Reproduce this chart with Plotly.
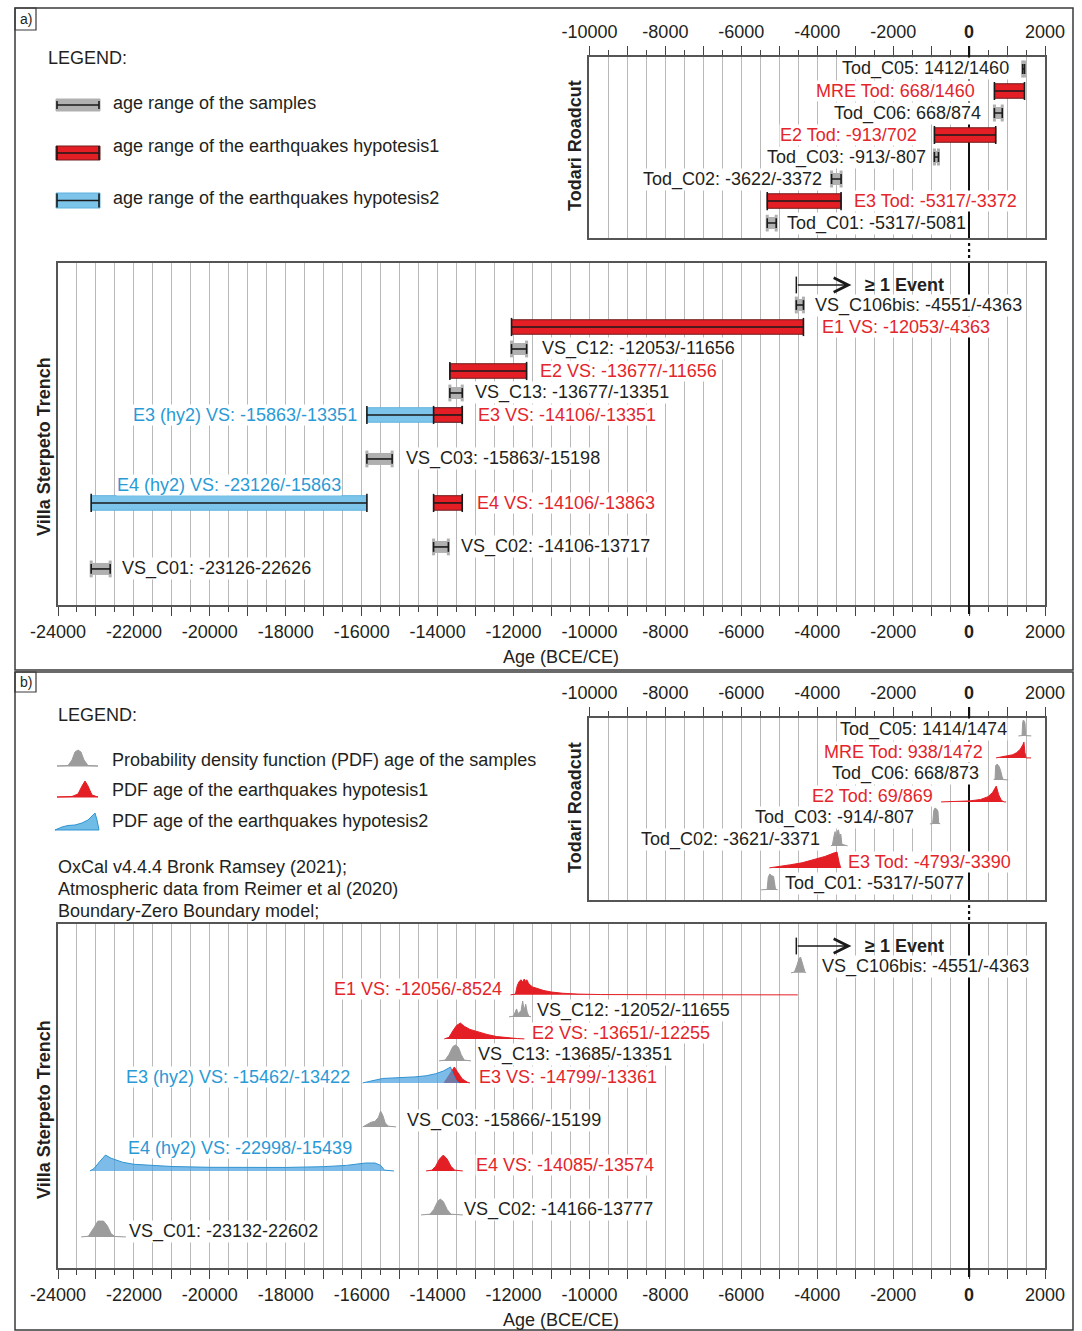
import plotly.graph_objects as go

W, H = 1082, 1331

# ====================== DATA ======================
# (a) Todari Roadcut - age ranges (yr BCE/CE)
tod_a_labels = ["Tod_C05: 1412/1460", "MRE Tod: 668/1460", "Tod_C06: 668/874", "E2 Tod: -913/702",
                "Tod_C03: -913/-807", "Tod_C02: -3622/-3372", "E3 Tod: -5317/-3372", "Tod_C01: -5317/-5081"]
tod_a_kind = ["sample", "eq1", "sample", "eq1", "sample", "sample", "eq1", "sample"]
tod_a_start = [1412, 668, 668, -913, -913, -3622, -5317, -5317]
tod_a_end = [1460, 1460, 874, 702, -807, -3372, -3372, -5081]

# (a) Villa Sterpeto Trench - age ranges
vs_a_labels = ["VS_C106bis: -4551/-4363", "E1 VS: -12053/-4363", "VS_C12: -12053/-11656",
               "E2 VS: -13677/-11656", "VS_C13: -13677/-13351", "E3 (hy2) VS: -15863/-13351",
               "E3 VS: -14106/-13351", "VS_C03: -15863/-15198", "E4 (hy2) VS: -23126/-15863",
               "E4 VS: -14106/-13863", "VS_C02: -14106-13717", "VS_C01: -23126-22626"]
vs_a_kind = ["sample", "eq1", "sample", "eq1", "sample", "eq2", "eq1", "sample", "eq2", "eq1", "sample", "sample"]
vs_a_start = [-4551, -12053, -12053, -13677, -13677, -15863, -14106, -15863, -23126, -14106, -14106, -23126]
vs_a_end = [-4363, -4363, -11656, -11656, -13351, -13351, -13351, -15198, -15863, -13351, -13717, -22626]

# "≥ 1 Event" arrow (start / arrow tip)
event_start = -4551
event_tip = -3100

# (b) Todari Roadcut - OxCal PDFs
tod_b_labels = ["Tod_C05: 1414/1474", "MRE Tod: 938/1472", "Tod_C06: 668/873", "E2 Tod: 69/869",
                "Tod_C03: -914/-807", "Tod_C02: -3621/-3371", "E3 Tod: -4793/-3390", "Tod_C01: -5317/-5077"]
tod_b_kind = ["sample", "eq1", "sample", "eq1", "sample", "sample", "eq1", "sample"]
tod_b_start = [1414, 938, 668, 69, -914, -3621, -4793, -5317]
tod_b_end = [1474, 1472, 873, 869, -807, -3371, -3390, -5077]
tod_b_pdf_x = [
    [1300, 1395, 1412, 1430, 1450, 1474, 1490, 1640],
    [711, 850, 1000, 1150, 1250, 1350, 1420, 1445, 1470, 1500, 1633],
    [650, 685, 700, 740, 790, 830, 870, 900, 1030],
    [-738, -300, 0, 300, 500, 620, 690, 715, 780, 850, 920, 975],
    [-1030, -960, -930, -900, -860, -820, -800, -760],
    [-3640, -3600, -3560, -3530, -3500, -3470, -3440, -3410, -3380, -3350, -3200],
    [-5260, -5000, -4700, -4400, -4100, -3800, -3550, -3480, -3420, -3380],
    [-5480, -5320, -5290, -5250, -5200, -5150, -5100, -5040],
]
tod_b_pdf_p = [
    [0, 0.02, 0.85, 1.0, 0.95, 0.8, 0.02, 0],
    [0, 0.05, 0.12, 0.2, 0.33, 0.55, 0.85, 1.0, 0.35, 0, 0],
    [0, 0.1, 0.9, 1.0, 0.85, 0.6, 0.2, 0.02, 0],
    [0, 0.02, 0.06, 0.15, 0.33, 0.6, 0.9, 1.0, 0.45, 0.1, 0, 0],
    [0, 0.02, 0.85, 1.0, 0.95, 0.8, 0.05, 0],
    [0, 0.05, 0.6, 0.9, 0.5, 0.95, 1.0, 0.6, 0.75, 0.1, 0],
    [0, 0.08, 0.2, 0.32, 0.5, 0.72, 0.95, 1.0, 0.3, 0],
    [0, 0.03, 0.8, 1.0, 0.9, 0.85, 0.05, 0],
]

# (b) Villa Sterpeto Trench - OxCal PDFs
vs_b_labels = ["VS_C106bis: -4551/-4363", "E1 VS: -12056/-8524", "VS_C12: -12052/-11655",
               "E2 VS: -13651/-12255", "VS_C13: -13685/-13351", "E3 VS: -14799/-13361",
               "E3 (hy2) VS: -15462/-13422", "VS_C03: -15866/-15199", "E4 (hy2) VS: -22998/-15439",
               "E4 VS: -14085/-13574", "VS_C02: -14166-13777", "VS_C01: -23132-22602"]
vs_b_kind = ["sample", "eq1", "sample", "eq1", "sample", "eq1", "eq2", "sample", "eq2", "eq1", "sample", "sample"]
vs_b_start = [-4551, -12056, -12052, -13651, -13685, -14799, -15462, -15866, -22998, -14085, -14166, -23132]
vs_b_end = [-4363, -8524, -11655, -12255, -13351, -13361, -13422, -15199, -15439, -13574, -13777, -22602]
vs_b_pdf_x = [
    [-4690, -4600, -4530, -4480, -4440, -4400, -4360, -4320, -4294],
    [-12080, -11950, -11900, -11850, -11800, -11760, -11720, -11680, -11650, -11600, -11500, -11350,
     -11200, -11000, -10700, -10300, -9700, -8000, -4513],
    [-12120, -12000, -11920, -11880, -11800, -11760, -11720, -11680, -11640, -11600, -11540],
    [-13822, -13700, -13600, -13500, -13400, -13300, -13150, -12950, -12700, -12450, -12200, -11900, -11715],
    [-13962, -13800, -13700, -13600, -13530, -13450, -13380, -13300, -13120],
    [-13830, -13750, -13650, -13560, -13480, -13350, -13200, -13150],
    [-15972, -15850, -15600, -15450, -15200, -14900, -14600, -14300, -14050, -13850, -13720, -13660,
     -13600, -13500, -13427],
    [-15972, -15850, -15750, -15650, -15560, -15500, -15440, -15380, -15300, -15095],
    [-23160, -23050, -22900, -22750, -22600, -22300, -22000, -21500, -21000, -20000, -19000, -18000,
     -17000, -16400, -15900, -15650, -15500, -15400, -15150],
    [-14304, -14150, -14050, -13950, -13850, -13750, -13650, -13550, -13337],
    [-14436, -14200, -14100, -14000, -13930, -13850, -13750, -13650, -13337],
    [-23390, -23200, -23050, -22950, -22800, -22700, -22600, -22500, -22210],
]
vs_b_pdf_p = [
    [0, 0.05, 0.5, 0.9, 1.0, 0.7, 0.3, 0.03, 0],
    [0, 0.05, 0.6, 0.85, 0.95, 0.8, 1.0, 0.85, 0.95, 0.7, 0.5, 0.38, 0.27, 0.18, 0.1, 0.05, 0.02, 0.01, 0],
    [0, 0.05, 0.5, 0.2, 0.4, 1.0, 0.4, 0.8, 0.3, 0.05, 0],
    [0, 0.1, 0.5, 0.85, 1.0, 0.8, 0.6, 0.45, 0.28, 0.15, 0.07, 0.02, 0],
    [0, 0.05, 0.4, 0.9, 1.0, 0.85, 0.4, 0.05, 0],
    [0, 0.3, 0.75, 1.0, 0.7, 0.25, 0.02, 0],
    [0, 0.05, 0.2, 0.28, 0.3, 0.33, 0.38, 0.45, 0.58, 0.75, 0.95, 1.0, 0.6, 0.1, 0],
    [0, 0.15, 0.3, 0.35, 0.6, 1.0, 0.7, 0.25, 0.05, 0],
    [0, 0.15, 0.6, 1.0, 0.8, 0.55, 0.42, 0.33, 0.28, 0.23, 0.21, 0.22, 0.27, 0.35, 0.5, 0.5, 0.35, 0.05, 0],
    [0, 0.05, 0.3, 0.75, 1.0, 0.75, 0.3, 0.05, 0],
    [0, 0.05, 0.35, 0.85, 1.0, 0.85, 0.35, 0.05, 0],
    [0, 0.05, 0.6, 1.0, 1.0, 0.7, 0.2, 0.03, 0],
]

# ====================== LAYOUT / STYLE ======================
tod_a_row = [1, 2, 3, 4, 5, 6, 7, 8]
tod_a_side = ["left"] * 6 + ["right"] * 2
tod_a_dx = [-13, -18, -12, -16, -7, -9, 12, 10]

vs_a_row = [1, 2, 3, 4, 5, 6, 6, 8, 10, 10, 12, 13]
vs_a_side = ["right", "right", "right", "right", "right", "left", "right", "right", "above", "right", "right", "right"]
vs_a_dx = [11, 18, 14, 12, 12, -9, 15, 13, 0, 14, 12, 11]

tod_b_row = [1, 2, 3, 4, 5, 6, 7, 8]
tod_b_side = ["left"] * 6 + ["right"] * 2
tod_b_dx = [-15, -21, -14, -38, -19, -11, 7, 8]

vs_b_row = [1, 2, 3, 4, 5, 6, 6, 8, 10, 10, 12, 13]
vs_b_side = ["right", "left", "right", "right", "right", "right", "left", "right", "above", "right", "right", "right"]
vs_b_dx = [18, -8, 9, 27, 15, 16, -31, 14, 0, 21, 17, 17]

FONT = "Liberation Sans, Arial, Helvetica, sans-serif"
TXT = "#231f20"
RED = "#e31e24"
REDTXT = "#e4252b"
BLUE = "#7cc4ea"
BLUETXT = "#2a9ad6"
GRAY = "#b0b0b0"
PDFGRAY = "#9c9c9c"
GRID = "#b9b9b9"
FRAME = "#555555"

fig = go.Figure()


def px(x):
    return x / W


def py(y):
    return 1 - y / H


def label(xa, ya, x, y, text, color, side, dx, bold=False):
    t = f"<b>{text}</b>" if bold else text
    if side == "above":
        xanchor = "center"
    else:
        xanchor = "right" if side == "left" else "left"
    fig.add_annotation(x=x, y=y, xref=xa, yref=ya, text=t, showarrow=False, xanchor=xanchor,
                       yanchor="middle", xshift=dx, font=dict(family=FONT, size=18, color=color),
                       bgcolor="white", borderpad=0)


def whisker(xa, ya, s, e, r, cap):
    fig.add_trace(go.Scatter(x=[s, e], y=[r, r], mode="lines+markers", xaxis=xa, yaxis=ya,
                             line=dict(color="#1a1a1a", width=1.6),
                             marker=dict(symbol="line-ns", size=cap, line=dict(color="#1a1a1a", width=1.6)),
                             hoverinfo="skip", showlegend=False))


def range_bar(xa, ya, s, e, r, kind):
    if kind == "sample":
        fig.add_trace(go.Scatter(x=[s, e], y=[r, r], mode="lines+markers", xaxis=xa, yaxis=ya,
                                 line=dict(color=GRAY, width=12),
                                 marker=dict(symbol="line-ns", size=12, line=dict(color=GRAY, width=3)),
                                 hoverinfo="skip", showlegend=False))
        whisker(xa, ya, s, e, r, 7)
    else:
        h = 0.33
        fill = RED if kind == "eq1" else BLUE
        edge = "#6e1c1c" if kind == "eq1" else "#5fb2de"
        fig.add_trace(go.Scatter(x=[s, e, e, s, s], y=[r - h, r - h, r + h, r + h, r - h], mode="lines",
                                 fill="toself", fillcolor=fill, line=dict(color=edge, width=1),
                                 xaxis=xa, yaxis=ya, hoverinfo="skip", showlegend=False))
        whisker(xa, ya, s, e, r, 13)


def pdf(xa, ya, xs, ps, r, kind):
    base = r + 0.27
    ys = [base - 0.72 * p for p in ps]
    if kind == "sample":
        fc, lc = PDFGRAY, PDFGRAY
    elif kind == "eq1":
        fc, lc = RED, RED
    else:
        fc, lc = "rgba(70,160,222,0.7)", "#2f93d2"
    fig.add_trace(go.Scatter(x=xs, y=ys, mode="lines", fill="toself", fillcolor=fc,
                             line=dict(color=lc, width=1), xaxis=xa, yaxis=ya,
                             hoverinfo="skip", showlegend=False))


def color_of(kind):
    return {"sample": TXT, "eq1": REDTXT, "eq2": BLUETXT}[kind]


# ---------- (a) Todari ----------
for kind in ["eq2", "eq1", "sample"]:
    for i in range(len(tod_a_labels)):
        if tod_a_kind[i] == kind:
            range_bar("x", "y", tod_a_start[i], tod_a_end[i], tod_a_row[i], kind)
for i in range(len(tod_a_labels)):
    ax = tod_a_start[i] if tod_a_side[i] == "left" else tod_a_end[i]
    label("x", "y", ax, tod_a_row[i], tod_a_labels[i], color_of(tod_a_kind[i]), tod_a_side[i], tod_a_dx[i])

# ---------- (a) Villa Sterpeto ----------
for kind in ["eq2", "eq1", "sample"]:
    for i in range(len(vs_a_labels)):
        if vs_a_kind[i] == kind:
            range_bar("x2", "y2", vs_a_start[i], vs_a_end[i], vs_a_row[i], kind)
for i in range(len(vs_a_labels)):
    side = vs_a_side[i]
    if side == "above":
        label("x2", "y2", (vs_a_start[i] + vs_a_end[i]) / 2, vs_a_row[i] - 0.82, vs_a_labels[i],
              color_of(vs_a_kind[i]), side, 0)
    else:
        ax = vs_a_start[i] if side == "left" else vs_a_end[i]
        label("x2", "y2", ax, vs_a_row[i], vs_a_labels[i], color_of(vs_a_kind[i]), side, vs_a_dx[i])

# ---------- (b) Todari ----------
for kind in ["eq1", "eq2", "sample"]:
    for i in range(len(tod_b_labels)):
        if tod_b_kind[i] == kind:
            pdf("x3", "y3", tod_b_pdf_x[i], tod_b_pdf_p[i], tod_b_row[i], kind)
for i in range(len(tod_b_labels)):
    ax = tod_b_start[i] if tod_b_side[i] == "left" else tod_b_end[i]
    label("x3", "y3", ax, tod_b_row[i], tod_b_labels[i], color_of(tod_b_kind[i]), tod_b_side[i], tod_b_dx[i])

# ---------- (b) Villa Sterpeto ----------
for kind in ["eq1", "eq2", "sample"]:
    for i in range(len(vs_b_labels)):
        if vs_b_kind[i] == kind:
            pdf("x4", "y4", vs_b_pdf_x[i], vs_b_pdf_p[i], vs_b_row[i], kind)
for i in range(len(vs_b_labels)):
    side = vs_b_side[i]
    if side == "above":
        label("x4", "y4", (vs_b_start[i] + vs_b_end[i]) / 2, vs_b_row[i] - 0.77, vs_b_labels[i],
              color_of(vs_b_kind[i]), side, 0)
    else:
        ax = vs_b_start[i] if side == "left" else vs_b_end[i]
        label("x4", "y4", ax, vs_b_row[i], vs_b_labels[i], color_of(vs_b_kind[i]), side, vs_b_dx[i])

# ---------- "≥ 1 Event" arrows ----------
for xa, ya, r in [("x2", "y2", 0.09), ("x4", "y4", 0.05)]:
    fig.add_trace(go.Scatter(x=[event_start], y=[r], mode="markers", xaxis=xa, yaxis=ya,
                             marker=dict(symbol="line-ns", size=12, line=dict(color="#1a1a1a", width=1.5)),
                             hoverinfo="skip", showlegend=False))
    fig.add_annotation(x=event_tip, y=r, ax=event_start, ay=r, xref=xa, yref=ya,
                       axref=xa, ayref=ya, showarrow=True, arrowhead=5, arrowsize=2.2,
                       arrowwidth=1.3, arrowcolor="#1a1a1a", text="")
    fig.add_annotation(x=event_tip, y=r, xref=xa, yref=ya, text="<b>≥ 1 Event</b>", showarrow=False,
                       xanchor="left", yanchor="middle", xshift=12,
                       font=dict(family=FONT, size=18, color=TXT))


# ====================== AXES ======================
def xaxis_cfg(dom, lo, hi, side, anchor):
    vals = list(range(lo, hi + 1, 1000))
    txt = []
    for v in vals:
        if v == 0:
            txt.append("<b>0</b>")
        elif v % 2000 == 0:
            txt.append(str(v))
        else:
            txt.append("")
    return dict(domain=dom, range=[lo, hi], anchor=anchor, side=side, automargin=False,
                tickmode="array", tickvals=vals, ticktext=txt,
                ticks="outside", ticklen=9, tickwidth=1, tickcolor="#444",
                ticklabelstandoff=1,
                tickfont=dict(family=FONT, size=18, color=TXT),
                showline=True, mirror=True, linecolor=FRAME, linewidth=1.5,
                showgrid=True, gridcolor=GRID, gridwidth=1,
                zeroline=True, zerolinecolor="#111", zerolinewidth=2.2,
                minor=dict(dtick=500, tick0=0, ticks="outside", ticklen=5, tickcolor="#444",
                           showgrid=True, gridcolor=GRID, gridwidth=1),
                fixedrange=True)


def yaxis_cfg(top, bot, r_top, r_bot, anchor):
    return dict(domain=[py(bot), py(top)], range=[r_bot, r_top], anchor=anchor, automargin=False,
                showticklabels=False, ticks="", showgrid=False, zeroline=False,
                showline=True, mirror=True, linecolor=FRAME, linewidth=1.5, fixedrange=True)


XL_T = 1045 - 12000 / 26000 * 987
XL_V, XR = 58, 1045

fig.update_layout(
    template="none",
    width=W, height=H, margin=dict(l=0, r=0, t=0, b=0, pad=0), autosize=False,
    paper_bgcolor="white", plot_bgcolor="rgba(0,0,0,0)", showlegend=False,
    font=dict(family=FONT, size=18, color=TXT),
    xaxis=xaxis_cfg([px(XL_T), px(XR)], -10000, 2000, "top", "y"),
    yaxis=yaxis_cfg(57, 238, 0.455, 8.68, "x"),
    xaxis2=xaxis_cfg([px(XL_V), px(XR)], -24000, 2000, "bottom", "y2"),
    yaxis2=yaxis_cfg(263, 605, -0.91, 14.64, "x2"),
    xaxis3=xaxis_cfg([px(XL_T), px(XR)], -10000, 2000, "top", "y3"),
    yaxis3=yaxis_cfg(718, 900, 0.455, 8.73, "x3"),
    xaxis4=xaxis_cfg([px(XL_V), px(XR)], -24000, 2000, "bottom", "y4"),
    yaxis4=yaxis_cfg(924, 1268, -0.95, 14.68, "x4"),
)

# ====================== DECORATION ======================
shapes = []
# panel frames and a)/b) tags
for (y0, y1, tag_y1) in [(8, 670, 30), (672, 1330, 692)]:
    shapes.append(dict(type="rect", xref="paper", yref="paper", x0=px(15), x1=px(1073), y0=py(y1), y1=py(y0),
                       line=dict(color="#3a3a3a", width=1.5)))
    shapes.append(dict(type="rect", xref="paper", yref="paper", x0=px(15), x1=px(36), y0=py(tag_y1), y1=py(y0),
                       line=dict(color="#3a3a3a", width=1.2)))
fig.add_annotation(x=px(25.5), y=py(19), xref="paper", yref="paper", text="a)", showarrow=False,
                   xanchor="center", yanchor="middle", font=dict(family=FONT, size=14, color=TXT))
fig.add_annotation(x=px(25.5), y=py(682), xref="paper", yref="paper", text="b)", showarrow=False,
                   xanchor="center", yanchor="middle", font=dict(family=FONT, size=14, color=TXT))

# zero-line extensions (tick above Todari box, dotted connection, tick below VS box)
for xa, top_box, t_bot, v_top, v_bot in [("x2", 57, 238, 263, 605), ("x4", 718, 900, 924, 1268)]:
    shapes.append(dict(type="line", xref=xa, yref="paper", x0=0, x1=0, y0=py(top_box), y1=py(top_box - 11),
                       line=dict(color="#111", width=2.2)))
    shapes.append(dict(type="line", xref=xa, yref="paper", x0=0, x1=0, y0=py(t_bot + 5), y1=py(v_top - 3),
                       line=dict(color="#111", width=2.2, dash="dot")))
    shapes.append(dict(type="line", xref=xa, yref="paper", x0=0, x1=0, y0=py(v_bot + 9), y1=py(v_bot),
                       line=dict(color="#111", width=2.2)))

# legend (a) icons
legend_a = [(105, GRAY, None, 12), (153, RED, "#6e1c1c", 14), (200.5, BLUE, "#5fb2de", 15)]
for yc, fc, lc, hgt in legend_a:
    shapes.append(dict(type="rect", xref="paper", yref="paper", x0=px(56), x1=px(100),
                       y0=py(yc + hgt / 2), y1=py(yc - hgt / 2), fillcolor=fc,
                       line=dict(color=lc if lc else fc, width=1)))
    cap = 4 if lc is None else 7
    shapes.append(dict(type="line", xref="paper", yref="paper", x0=px(57), x1=px(99), y0=py(yc), y1=py(yc),
                       line=dict(color="#1a1a1a", width=1.6)))
    for xx in (57, 99):
        shapes.append(dict(type="line", xref="paper", yref="paper", x0=px(xx), x1=px(xx),
                           y0=py(yc - cap), y1=py(yc + cap), line=dict(color="#1a1a1a", width=1.6)))


def ppath(pts):
    return "M " + " L ".join(f"{px(a):.5f},{py(b):.5f}" for a, b in pts) + " Z"


icon_gray = [(57, 766), (68, 765.5), (72, 760), (75, 752), (78, 750), (81, 752), (84, 760), (88, 765.5), (98, 766)]
icon_red = [(57, 797), (72, 796.5), (78, 794), (82, 786), (85, 781), (88, 786), (92, 795), (98, 797)]
icon_blue = [(55, 830), (62, 827), (68, 825.5), (75, 825), (82, 823), (88, 820), (93, 815), (95, 813),
             (97, 820), (99, 830)]
shapes.append(dict(type="path", xref="paper", yref="paper", path=ppath(icon_gray), fillcolor=PDFGRAY,
                   line=dict(color=PDFGRAY, width=1)))
shapes.append(dict(type="path", xref="paper", yref="paper", path=ppath(icon_red), fillcolor=RED,
                   line=dict(color=RED, width=1)))
shapes.append(dict(type="path", xref="paper", yref="paper", path=ppath(icon_blue), fillcolor="#6fbde6",
                   line=dict(color="#2f93d2", width=1)))
fig.update_layout(shapes=shapes)


def ptext(x, y, text, size=18, bold=False, angle=0, anchor="left", color=TXT):
    fig.add_annotation(x=px(x), y=py(y), xref="paper", yref="paper", text=f"<b>{text}</b>" if bold else text,
                       showarrow=False, xanchor=anchor, yanchor="middle", textangle=angle,
                       font=dict(family=FONT, size=size, color=color))


# legend texts (a)
ptext(46, 58, "LEGEND:")
ptext(111, 103, "age range of the samples")
ptext(111, 146, "age range of the earthquakes hypotesis1")
ptext(111, 198, "age range of the earthquakes hypotesis2")
# legend texts (b)
ptext(56, 715, "LEGEND:")
ptext(110, 760, "Probability density function (PDF) age of the samples")
ptext(110, 790, "PDF age of the earthquakes hypotesis1")
ptext(110, 821, "PDF age of the earthquakes hypotesis2")
ptext(56, 867, "OxCal v4.4.4 Bronk Ramsey (2021);")
ptext(56, 889, "Atmospheric data from Reimer et al (2020)")
ptext(56, 911, "Boundary-Zero Boundary model;")

# axis / site titles
ptext(561, 657, "Age (BCE/CE)", anchor="center")
ptext(561, 1320, "Age (BCE/CE)", anchor="center")
ptext(575, 146, "Todari Roadcut", bold=True, angle=-90, anchor="center")
ptext(575, 808, "Todari Roadcut", bold=True, angle=-90, anchor="center")
ptext(44, 447, "Villa Sterpeto Trench", bold=True, angle=-90, anchor="center")
ptext(44, 1110, "Villa Sterpeto Trench", bold=True, angle=-90, anchor="center")

fig.write_html("out.html", config={"displayModeBar": False},
               post_script="document.body.style.margin='0px';document.body.style.overflow='hidden';")
